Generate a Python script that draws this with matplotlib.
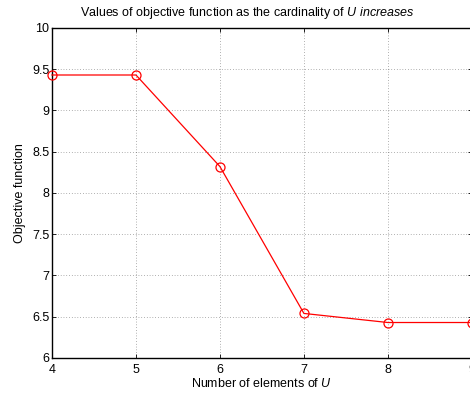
import matplotlib
matplotlib.use('Agg')
import matplotlib.pyplot as plt

plt.rcParams['font.family'] = ['Liberation Sans', 'DejaVu Sans']
plt.rcParams['mathtext.fontset'] = 'custom'
plt.rcParams['mathtext.rm'] = 'Liberation Sans'
plt.rcParams['mathtext.it'] = 'Liberation Sans:italic'

n_elements = [4, 5, 6, 7, 8, 9]
objective = [9.43, 9.43, 8.32, 6.54, 6.43, 6.43]
y_ticks = [6, 6.5, 7, 7.5, 8, 8.5, 9, 9.5, 10]

fig = plt.figure(figsize=(4.7, 3.94), dpi=100)
ax = fig.add_axes([0.1106, 0.0914, 0.8934, 0.8376])

ax.plot(n_elements, objective, color='red', linewidth=0.9,
        marker='o', markersize=6.5, markerfacecolor='none',
        markeredgecolor='red', markeredgewidth=0.9, clip_on=False, zorder=3)

ax.set_xlim(4, 9)
ax.set_ylim(6, 10)
ax.set_xticks(n_elements)
ax.set_yticks(y_ticks)
ax.set_yticklabels(['6', '6.5', '7', '7.5', '8', '8.5', '9', '9.5', '10'])
ax.tick_params(direction='in', labelsize=9, length=3, width=0.6, top=True, right=True, pad=2)
ax.tick_params(axis='x', pad=4)
ax.grid(True, linestyle=(0, (1, 3)), color='black', linewidth=0.5, alpha=0.6)
for s in ax.spines.values():
    s.set_linewidth(1.0)

ax.set_xlabel(r'Number of elements of $U$', fontsize=9, labelpad=1)
ax.set_ylabel('Objective function', fontsize=9, labelpad=4)
fig.text(0.527, 0.967, r'Values of objective function as the cardinality of $U\ increases$',
         fontsize=9, ha='center', va='center')

fig.savefig('out.png', dpi=100)
